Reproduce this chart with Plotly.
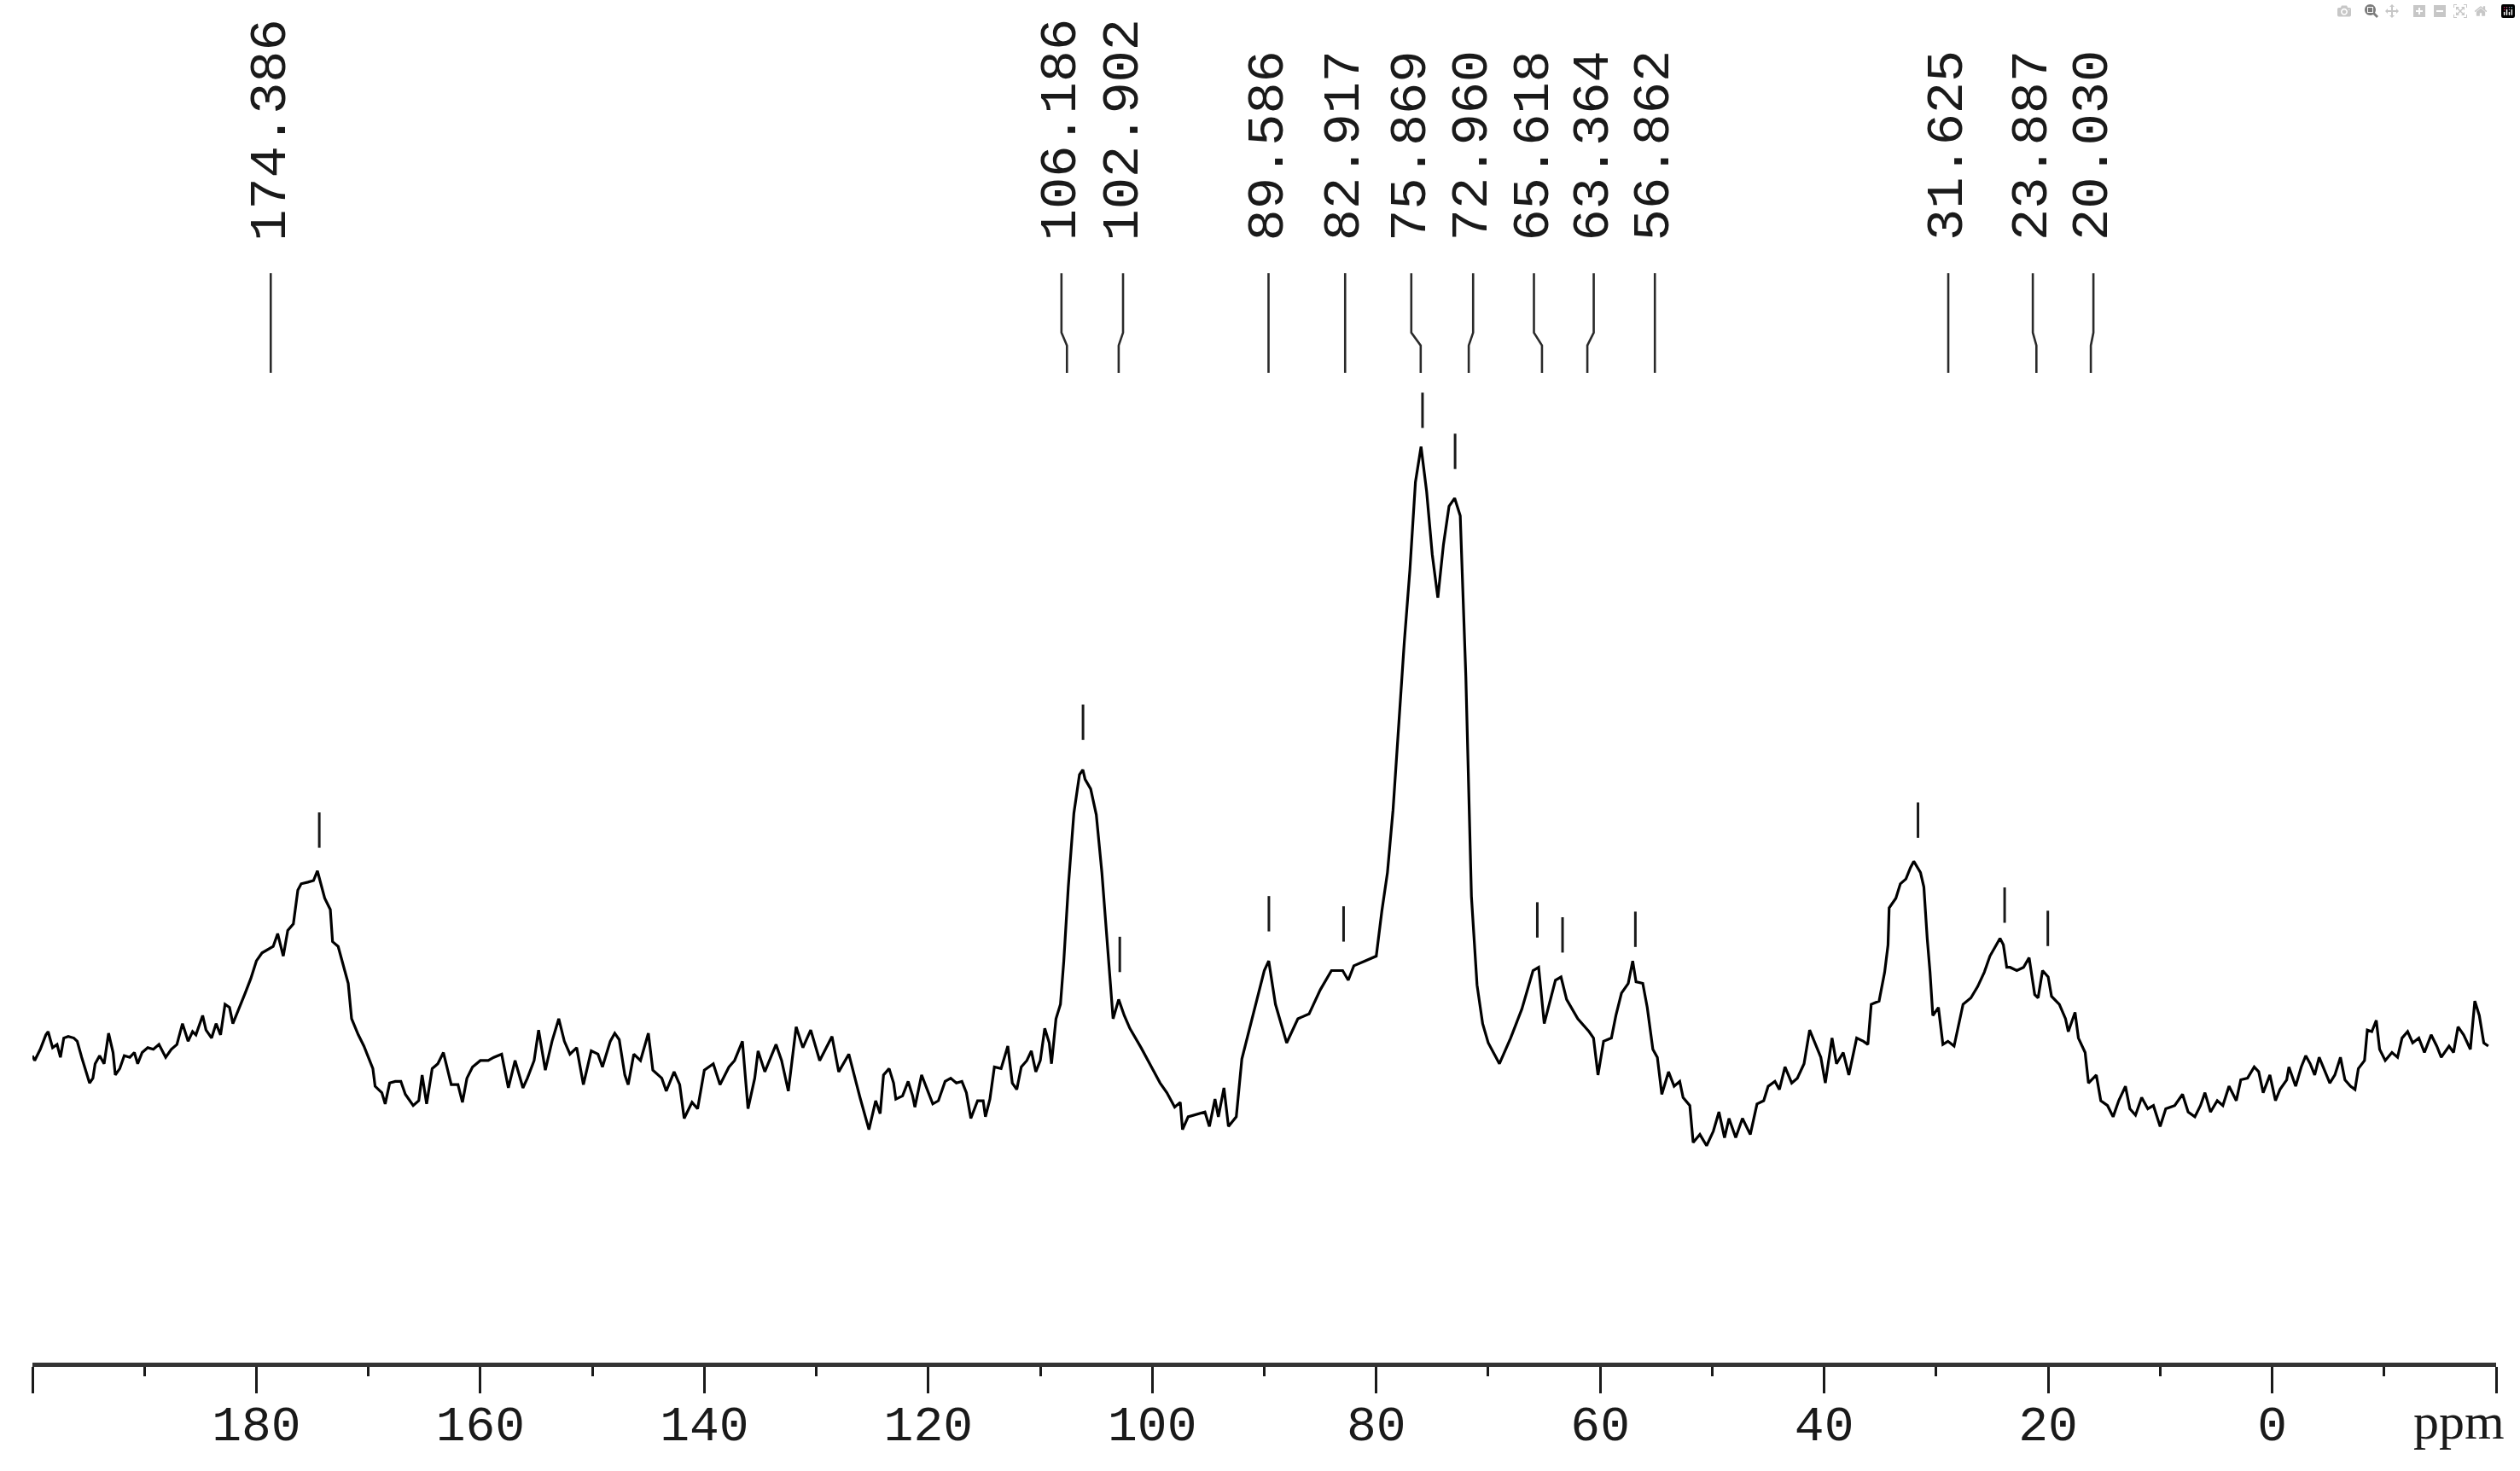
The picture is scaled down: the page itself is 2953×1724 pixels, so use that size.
import numpy as np
import plotly.graph_objects as go

# 13C NMR spectrum, chemical shift (ppm) vs intensity (arb. units)
ppm = [
    200.0, 199.8, 199.3, 198.8, 198.6, 198.2, 197.8, 197.5, 197.2, 196.8, 196.3, 196.0, 195.6, 195.3,
    194.9, 194.6, 194.4, 194.0, 193.6, 193.2, 192.8, 192.6, 192.2, 191.8, 191.3, 190.9, 190.6, 190.2,
    189.7, 189.2, 188.7, 188.1, 187.6, 187.1, 186.6, 186.1, 185.7, 185.4, 184.8, 184.5, 184.0, 183.6,
    183.2, 182.8, 182.4, 182.1, 181.5, 181.0, 180.5, 180.0, 179.5, 179.0, 178.5, 178.1, 177.6, 177.2,
    176.7, 176.3, 176.0, 175.4, 174.9, 174.55, 174.3, 173.9, 173.4, 173.2, 172.7, 172.1, 171.8, 171.5,
    170.9, 170.4, 170.0, 169.6, 169.4, 168.8, 168.5, 168.1, 167.6, 167.1, 166.7, 166.0, 165.5, 165.2,
    164.8, 164.3, 163.8, 163.3,
    162.6, 162.0, 161.6, 161.2, 160.7, 160.0, 159.3, 158.8, 158.1, 157.5, 156.9, 156.2, 155.8, 155.2,
    154.8, 154.2, 153.6, 153.0, 152.5, 152.0, 151.4, 150.8, 150.1, 149.5, 149.1, 148.4, 148.0, 147.6,
    147.1, 146.8, 146.3, 145.7, 145.0, 144.6, 143.8, 143.4, 142.7, 142.2, 141.8, 141.1, 140.6, 140.0,
    139.2, 138.6, 137.8, 137.3, 136.6, 136.1, 135.5, 135.2, 134.6, 133.6, 133.1, 132.5, 131.8, 131.2,
    130.5, 129.7, 128.6, 128.0, 127.1, 126.7, 126.1, 125.3,
    124.7, 124.3, 124.0, 123.5, 123.1, 122.9, 122.3, 121.8, 121.4, 121.2, 120.6, 120.1, 119.6, 119.1,
    118.5, 118.0, 117.5, 117.0, 116.6, 116.2, 115.6, 115.1, 114.9, 114.5, 114.1, 113.5, 112.9, 112.5,
    112.1, 111.7, 111.2, 110.8, 110.4, 110.0, 109.6, 109.2, 109.0, 108.6, 108.2, 107.9, 107.5, 107.0,
    106.5, 106.2, 106.0, 105.5, 105.0, 104.5, 104.0, 103.5, 103.0, 102.5, 102.0, 101.0, 100.0, 99.3,
    98.7, 98.0, 97.5, 97.3, 96.8, 95.9, 95.3, 94.9, 94.4, 94.1, 93.6, 93.2, 92.5, 92.0, 91.0, 90.0,
    89.6, 89.0, 88.0, 87.0, 86.0, 85.0, 84.0, 83.0, 82.5, 82.0, 81.0, 80.0, 79.5, 79.0, 78.5, 78.0,
    77.5, 77.0, 76.5, 76.0, 75.5, 75.0, 74.5, 74.0, 73.5, 73.0, 72.5, 72.0, 71.5, 71.0, 70.5, 70.0,
    69.0, 68.0, 67.0, 66.0, 65.5, 65.0, 64.0, 63.5, 63.0, 62.0,
    61.0, 60.6, 60.2, 59.7, 59.0, 58.6, 58.1, 57.5, 57.1, 56.8, 56.2, 55.8, 55.3, 54.9, 54.5, 53.9,
    53.4, 52.9, 52.6, 52.0, 51.7, 51.1, 50.5, 49.9, 49.4, 48.9, 48.5, 47.9, 47.3, 46.6, 46.0, 45.4,
    45.0, 44.4, 44.0, 43.5, 42.9, 42.4, 41.8, 41.3, 40.9, 40.3, 39.9, 39.3, 38.9, 38.3, 37.8, 37.1,
    36.5, 36.1, 35.8, 35.1, 34.6, 34.3, 34.2, 33.6, 33.2, 32.7, 32.3, 32.0, 31.4, 31.1, 30.8, 30.55,
    30.3, 29.8, 29.4, 28.95, 28.4, 28.1, 27.6, 26.9, 26.3, 25.7, 25.2, 24.3, 24.0, 23.7, 23.4, 22.8,
    22.2, 21.7, 21.2, 20.9, 20.5, 20.0, 19.7, 19.0, 18.45, 18.2, 17.6, 17.3, 16.7, 16.4,
    15.7, 15.3, 14.7, 14.2, 13.7, 13.1, 12.7, 12.2, 11.65, 11.1, 10.6, 10.0, 9.5, 8.7, 8.0, 7.5,
    6.9, 6.4, 6.0, 5.5, 4.9, 4.4, 3.85, 3.2, 2.8, 2.2, 1.6, 1.2, 0.8, 0.2, -0.3, -0.7, -1.3, -1.5,
    -2.1, -2.6, -3.0, -3.4, -3.8, -4.2, -4.75, -5.15, -5.6, -6.1, -6.5, -7.0, -7.4, -7.7, -8.25, -8.5,
    -8.9, -9.3, -9.6, -10.1, -10.7, -11.2, -11.6, -12.1, -12.55, -13.1, -13.6, -14.2, -14.7, -15.1,
    -15.8, -16.2, -16.6, -17.1, -17.7, -18.1, -18.5, -18.9, -19.3,
]
intensity = [
    63, 60, 67, 76, 78, 68, 70, 62, 74, 75, 74, 72, 62, 55,
    46, 49, 58, 63, 58, 77, 65, 51, 55, 63, 62, 65, 58, 65,
    68, 67, 70, 62, 67, 70, 83, 72, 78, 76, 88, 79, 74, 83,
    76, 95, 93, 83, 93, 102, 111, 122, 127, 129, 131, 139, 125, 141,
    145, 166, 170, 171, 172, 178, 171, 161, 154, 134, 131, 115, 108, 86,
    76, 69, 62, 55, 44, 40, 33, 46, 47, 47, 39, 32, 35, 51,
    33, 55, 58, 65,
    45, 45, 34, 49, 56, 60, 60, 62, 64, 43, 60, 43, 49, 60,
    79, 54, 72, 86, 72, 64, 68, 45, 66, 64, 56, 72, 77, 73,
    51, 45, 64, 60, 77, 54, 49, 41, 53, 45, 24, 34, 30, 54,
    58, 45, 56, 60, 72, 30, 49, 66, 53, 70, 60, 41, 81, 68,
    79, 60, 75, 53, 64, 53, 37, 17,
    35, 27, 51, 55, 46, 36, 38, 47, 38, 31, 51, 42, 33, 35,
    47, 49, 46, 47, 40, 24, 35, 35, 25, 36, 56, 55, 69, 46,
    42, 56, 60, 66, 53, 60, 80, 71, 58, 86, 95, 122, 168, 214,
    238, 241, 235, 229, 213, 177, 131, 86, 98, 88, 80, 68, 55, 46,
    40, 31, 34, 17, 25, 27, 28, 19, 36, 25, 43, 19, 25, 61, 89, 116,
    122, 95, 71, 86, 89, 104, 116, 116, 110, 119, 122, 125, 153, 177, 216, 268,
    320, 365, 420, 442, 414, 375, 348, 381, 405, 410, 399, 299, 162, 107, 83, 71,
    58, 74, 92, 116, 118, 83, 110, 112, 98, 86,
    78, 74, 51, 72, 74, 88, 102, 108, 122, 109, 108, 93, 67, 62, 39, 53,
    44, 47, 37, 32, 9, 14, 7, 16, 28, 12, 24, 12, 24, 14, 33, 35,
    44, 47, 42, 56, 46, 49, 58, 79, 72, 62, 46, 74, 58, 65, 51, 74,
    72, 70, 95, 97, 115, 132, 155, 161, 170, 173, 180, 184, 177, 168, 136, 115,
    88, 93, 70, 72, 69, 79, 95, 99, 106, 115, 125, 136, 132, 118, 118, 116,
    118, 124, 101, 99, 116, 112, 100, 95, 86, 78, 90, 74, 65, 46,
    51, 35, 32, 25, 35, 44, 30, 26, 37, 30, 32, 19, 30, 32, 39, 28,
    25, 32, 40, 28, 35, 32, 44, 35, 48, 49, 56, 53, 40, 51, 35, 42, 48, 56,
    44, 56, 63, 58, 51, 62, 53, 46, 51, 62, 48, 44, 42, 55, 60, 79,
    78, 85, 67, 60, 65, 62, 74, 78, 71, 74, 65, 76, 69, 62,
    69, 65, 81, 76, 67, 97, 88, 71, 69,
]

# picked peaks
peak_ppm = [174.386, 106.186, 102.902, 89.586, 82.917, 75.869, 72.960,
            65.618, 63.364, 56.862, 31.625, 23.887, 20.030]
peak_labels = ["174.386", "106.186", "102.902", "89.586", "82.917", "75.869", "72.960",
               "65.618", "63.364", "56.862", "31.625", "23.887", "20.030"]
# where each label sits on the scale, and where its leader line ends
label_ppm = [178.72, 108.11, 102.61, 89.62, 82.78, 76.87, 71.35,
             65.92, 60.58, 55.12, 28.92, 21.37, 15.96]
leader_end_ppm = [178.72, 107.62, 103.00, 89.62, 82.78, 76.03, 71.74,
                  65.20, 61.15, 55.12, 28.92, 21.05, 16.19]

major_ticks = [200, 180, 160, 140, 120, 100, 80, 60, 40, 20, 0, -20]
major_text = ["", "180", "160", "140", "120", "100", "80", "60", "40", "20", "0", ""]
minor_ticks = [190, 170, 150, 130, 110, 90, 70, 50, 30, 10, -10]

W, H = 2953, 1724
MONO = "Liberation Mono, Courier New, monospace"
INK = "#1a1a1a"

fig = go.Figure()

# spectrum
fig.add_trace(go.Scatter(x=ppm, y=intensity, mode="lines",
                         line=dict(color="black", width=3.2), hoverinfo="skip"))

# short marks above each picked peak
srt = np.argsort(ppm)
p_s = np.asarray(ppm, float)[srt]
i_s = np.asarray(intensity, float)[srt]
peak_i = np.interp(peak_ppm, p_s, i_s)
mx, my = [], []
for p, v in zip(peak_ppm, peak_i):
    mx += [p, p, None]
    my += [v + 19, v + 41, None]
fig.add_trace(go.Scatter(x=mx, y=my, mode="lines",
                         line=dict(color=INK, width=3), hoverinfo="skip"))

# leader lines under the labels
lx, ly = [], []
for a, b in zip(label_ppm, leader_end_ppm):
    lx += [a, a, b, b, None]
    ly += [550, 513, 505, 488, None]
fig.add_trace(go.Scatter(x=lx, y=ly, mode="lines",
                         line=dict(color="#2a2a2a", width=2.6), hoverinfo="skip"))

for a, t in zip(label_ppm, peak_labels):
    fig.add_annotation(x=a, y=0.8219, xref="x", yref="paper", text=t, showarrow=False,
                       textangle=-90, xanchor="center", yanchor="bottom",
                       font=dict(family=MONO, size=62, color=INK))

fig.add_annotation(x=-16.7, y=-0.0213, xref="x", yref="paper", text="ppm", showarrow=False,
                   xanchor="center", yanchor="top",
                   font=dict(family="Liberation Serif, Times New Roman, serif", size=60, color=INK))

fig.update_layout(
    width=W, height=H,
    margin=dict(l=38, r=28, t=0, b=127, pad=0),
    paper_bgcolor="white", plot_bgcolor="white",
    showlegend=False,
    xaxis=dict(range=[200, -20], tickmode="array", tickvals=major_ticks, ticktext=major_text,
               ticks="outside", ticklen=31, tickwidth=3, tickcolor=INK,
               showline=True, linewidth=5, linecolor="#333333",
               showgrid=False, zeroline=False, automargin=False, ticklabelstandoff=-15,
               tickfont=dict(family=MONO, size=58, color=INK),
               minor=dict(tickmode="array", tickvals=minor_ticks, ticks="outside",
                          ticklen=11, tickwidth=3, tickcolor=INK, showgrid=False)),
    yaxis=dict(range=[-128, 720], visible=False, fixedrange=True),
)

fig.write_html("out.html", post_script="document.body.style.margin='0px';")
